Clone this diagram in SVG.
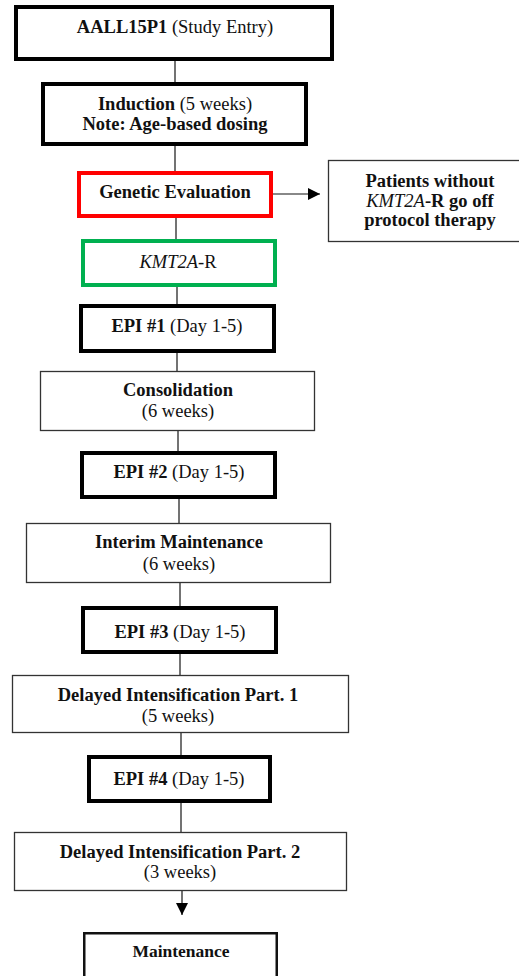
<svg xmlns="http://www.w3.org/2000/svg" width="519" height="976" viewBox="0 0 519 976">
<style>
.bg{fill:#fff}
.thick{fill:#fff;stroke:#000;stroke-width:4}
.thin{fill:#fff;stroke:#333;stroke-width:1.3}
.red{fill:#fff;stroke:#ff0000;stroke-width:4}
.green{fill:#fff;stroke:#00b050;stroke-width:4}
.mid{fill:#fff;stroke:#111;stroke-width:2.5}
text{font-family:"Liberation Serif","Times New Roman",serif;font-size:18.5px;fill:#111;text-anchor:middle}
.b{font-weight:bold}
.i{font-style:italic}
.conn line{stroke:#444;stroke-width:1.5}
.conn .g{stroke:#888;stroke-width:2}
</style>
<defs>
<marker id="ah" markerWidth="12" markerHeight="12" refX="12" refY="6" orient="auto" markerUnits="userSpaceOnUse">
<path d="M0,0 L12,6 L0,12 Z" fill="#000"/>
</marker>
</defs>
<rect class="bg" x="0" y="0" width="519" height="976"/>
<g id="connectors" class="conn">
<line x1="175" y1="61" x2="175" y2="82"/>
<line x1="175" y1="146" x2="175" y2="171"/>
<line x1="176" y1="218" x2="176" y2="239"/>
<line x1="177" y1="287" x2="177" y2="304"/>
<line x1="177" y1="353" x2="177" y2="371"/>
<line x1="178" y1="431" x2="178" y2="451"/>
<line x1="179" y1="499" x2="179" y2="523"/>
<line x1="180" y1="583" x2="180" y2="606"/>
<line x1="180" y1="654" x2="180" y2="675"/>
<line x1="181" y1="733" x2="181" y2="755"/>
<line x1="181" y1="803" x2="181" y2="832"/>
<line x1="182" y1="891" x2="182" y2="915" marker-end="url(#ah)"/>
<line class="g" x1="273" y1="194" x2="320" y2="194" marker-end="url(#ah)"/>
</g>
<g id="study-entry">
<rect class="thick" x="16" y="7" width="316" height="52"/>
<text x="175" y="33"><tspan class="b">AALL15P1 </tspan>(Study Entry)</text>
</g>
<g id="induction">
<rect class="thick" x="43" y="84" width="263" height="60"/>
<text x="175" y="110"><tspan class="b">Induction </tspan>(5 weeks)</text>
<text x="175" y="130" class="b">Note: Age-based dosing</text>
</g>
<g id="genetic-evaluation">
<rect class="red" x="79" y="173" width="192" height="43"/>
<text x="175" y="198" class="b">Genetic Evaluation</text>
</g>
<g id="off-protocol">
<rect class="thin" x="328.5" y="160.5" width="200" height="81"/>
<text x="430" y="187" class="b">Patients without</text>
<text x="430" y="207"><tspan class="i">KMT2A</tspan><tspan class="b">-R go off</tspan></text>
<text x="430" y="226" class="b">protocol therapy</text>
</g>
<g id="kmt2a-r">
<rect class="green" x="83" y="241" width="192" height="44"/>
<text x="178" y="268"><tspan class="i">KMT2A</tspan>-R</text>
</g>
<g id="epi1">
<rect class="thick" x="81" y="306" width="193" height="45"/>
<text x="177" y="332"><tspan class="b">EPI #1 </tspan>(Day 1-5)</text>
</g>
<g id="consolidation">
<rect class="thin" x="40.5" y="371.5" width="274" height="59"/>
<text x="178" y="396" class="b">Consolidation</text>
<text x="178" y="417">(6 weeks)</text>
</g>
<g id="epi2">
<rect class="thick" x="82" y="453" width="193" height="44"/>
<text x="179" y="478"><tspan class="b">EPI #2 </tspan>(Day 1-5)</text>
</g>
<g id="interim-maintenance">
<rect class="thin" x="26.5" y="523.5" width="304" height="59"/>
<text x="179" y="548" class="b">Interim Maintenance</text>
<text x="179" y="570">(6 weeks)</text>
</g>
<g id="epi3">
<rect class="thick" x="83" y="608" width="193" height="44"/>
<text x="180" y="638"><tspan class="b">EPI #3 </tspan>(Day 1-5)</text>
</g>
<g id="di-part1">
<rect class="thin" x="12.5" y="675.5" width="336" height="57"/>
<text x="178" y="701" class="b">Delayed Intensification Part. 1</text>
<text x="178" y="722">(5 weeks)</text>
</g>
<g id="epi4">
<rect class="thick" x="89" y="757" width="181" height="44"/>
<text x="179" y="785"><tspan class="b">EPI #4 </tspan>(Day 1-5)</text>
</g>
<g id="di-part2">
<rect class="thin" x="14.5" y="832.5" width="332" height="58"/>
<text x="180" y="858" class="b">Delayed Intensification Part. 2</text>
<text x="180" y="878">(3 weeks)</text>
</g>
<g id="maintenance">
<rect class="mid" x="84.25" y="933.25" width="192.5" height="50"/>
<text x="181" y="957" class="b" style="font-size:17.5px">Maintenance</text>
</g>
</svg>
